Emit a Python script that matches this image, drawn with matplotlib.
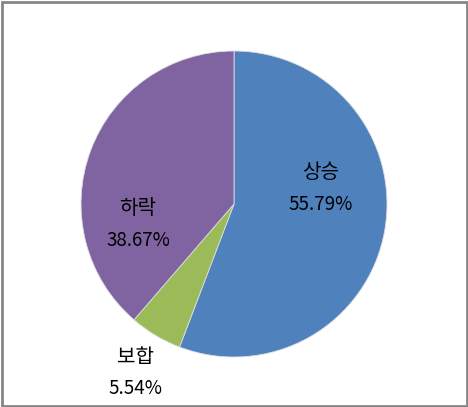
import matplotlib.pyplot as plt
from matplotlib.patches import Rectangle

plt.rcParams['font.family'] = ['Noto Sans CJK KR', 'DejaVu Sans']

labels = ['상승', '보합', '하락']
values = [55.79, 5.54, 38.67]
colors = ['#4F81BD', '#9BBB59', '#8064A2']
# label text positions in figure pixels (from top-left): name line, value line
label_x = [321, 135, 138]
name_y = [172, 358, 209]
value_y = [205, 389, 241]

W, H = 468, 407
fig = plt.figure(figsize=(W / 100, H / 100), dpi=100)
ax = fig.add_axes([0, 0, 1, 1])

cx, cy, r = 234, H - 204, 153
ax.pie(values, colors=colors, startangle=90, counterclock=False,
       center=(cx, cy), radius=r, frame=True,
       wedgeprops=dict(edgecolor='#dddddd', linewidth=0.6))
ax.set_xlim(0, W)
ax.set_ylim(0, H)
ax.set_aspect('equal')
ax.axis('off')

for lab, val, px, ny, vy in zip(labels, values, label_x, name_y, value_y):
    ax.text(px, H - ny, lab, ha='center', va='center', fontsize=14.5, color='black')
    ax.text(px, H - vy, f"{val:.2f}%", ha='center', va='center', fontsize=13.5, color='black')

fig.patches.append(Rectangle((1.5, 1.5), W - 3, H - 3, transform=None,
                             fill=False, edgecolor='#868686', linewidth=2))

fig.savefig('out.png', dpi=100)
